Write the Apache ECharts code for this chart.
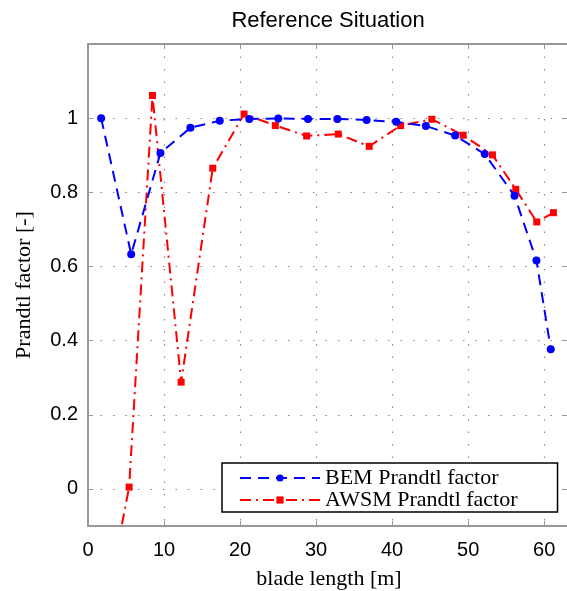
<!DOCTYPE html>
<html>
<head>
<meta charset="utf-8">
<script src="https://cdn.jsdelivr.net/npm/echarts@6/dist/echarts.min.js"></script>
<style>
  html, body { margin: 0; padding: 0; background: #fff; overflow: hidden; }
  #chart { width: 567px; height: 591px; }
</style>
</head>
<body>
<div id="chart"></div>
<script>
// ---- data ----
var titleText = 'Reference Situation';
var xAxisName = 'blade length [m]';
var yAxisName = 'Prandtl factor [-]';
var seriesNames = ['BEM Prandtl factor', 'AWSM Prandtl factor'];

var bemX = [1.73, 5.68, 9.53, 13.47, 17.33, 21.22, 25.03, 28.94, 32.8, 36.65, 40.54, 44.44, 48.29, 52.19, 56.1, 58.99, 60.87];
var bemY = [1.0, 0.633, 0.906, 0.974, 0.993, 0.998, 0.999, 0.998, 0.998, 0.995, 0.990, 0.979, 0.953, 0.903, 0.791, 0.616, 0.377];

var awsmX = [1.6, 5.41, 8.48, 12.25, 16.41, 20.53, 24.64, 28.76, 32.92, 36.99, 41.12, 45.23, 49.34, 53.2, 56.27, 59.03, 61.22];
var awsmY = [-0.40, 0.005, 1.061, 0.288, 0.865, 1.011, 0.980, 0.952, 0.957, 0.924, 0.980, 0.997, 0.954, 0.901, 0.808, 0.720, 0.745];

var xMin = 0, xMax = 63.4, xStep = 10;
var yMin = -0.1, yMax = 1.2;

function pairs(xs, ys) {
  return xs.map(function (x, i) { return [x, ys[i]]; });
}

var frameColor = '#999999';
var gridColor = '#8a8a8a';
var sansFont = '"Liberation Sans", Arial, Helvetica, sans-serif';
var serifFont = '"Liberation Serif", "Times New Roman", serif';

function isMultiple(v, step) {
  var r = v / step;
  return Math.abs(r - Math.round(r)) < 1e-6;
}

var chart = echarts.init(document.getElementById('chart'), null, { renderer: 'canvas' });

var option = {
  backgroundColor: '#ffffff',
  animation: false,
  title: {
    text: titleText,
    left: 323,
    top: 5,
    textAlign: 'center',
    textStyle: { fontFamily: sansFont, fontSize: 22, fontWeight: 'normal', color: '#000' }
  },
  grid: { left: 88, right: -3, top: 44, bottom: 65, containLabel: false, outerBoundsMode: 'none' },
  legend: {
    orient: 'vertical',
    left: 222,
    top: 463,
    backgroundColor: '#ffffff',
    borderColor: '#000000',
    borderWidth: 1.5,
    borderRadius: 0,
    padding: [4, 40, 1, 17],
    itemGap: 0,
    itemWidth: 80,
    itemHeight: 9,
    textStyle: { fontFamily: serifFont, fontSize: 22, color: '#000' },
    data: seriesNames
  },
  xAxis: [
    {
      type: 'value',
      position: 'bottom',
      min: xMin, max: xMax, interval: xStep,
      name: xAxisName,
      nameLocation: 'middle',
      nameGap: 42,
      nameTextStyle: { fontFamily: serifFont, fontSize: 22, color: '#000' },
      axisLine: { show: true, onZero: false, lineStyle: { color: frameColor, width: 2 } },
      axisTick: { show: true, inside: true, length: 5, lineStyle: { color: frameColor, width: 1 } },
      axisLabel: {
        margin: 14,
        fontFamily: sansFont, fontSize: 20, color: '#000',
        formatter: function (v) { return isMultiple(v, xStep) ? String(v) : ''; }
      },
      splitLine: { show: true, lineStyle: { color: gridColor, width: 1.2, type: [1.5, 11] } }
    },
    {
      type: 'value',
      position: 'top',
      min: xMin, max: xMax, interval: xStep,
      axisLine: { show: true, onZero: false, lineStyle: { color: frameColor, width: 2 } },
      axisTick: { show: true, inside: true, length: 5, lineStyle: { color: frameColor, width: 1 } },
      axisLabel: { show: false },
      splitLine: { show: false }
    }
  ],
  yAxis: [
    {
      type: 'value',
      position: 'left',
      min: yMin, max: yMax, splitNumber: 6,
      name: yAxisName,
      nameLocation: 'middle',
      nameGap: 53,
      nameRotate: 90,
      nameTextStyle: { fontFamily: serifFont, fontSize: 22, color: '#000' },
      axisLine: { show: true, onZero: false, lineStyle: { color: frameColor, width: 2 } },
      axisTick: { show: true, inside: true, length: 5, lineStyle: { color: frameColor, width: 1 } },
      axisLabel: {
        margin: 10,
        fontFamily: sansFont, fontSize: 20, color: '#000',
        formatter: function (v) {
          if (!isMultiple(v, 0.2) || v > 1.0001 || v < -0.0001) return '';
          return String(Math.round(v * 10) / 10);
        }
      },
      splitLine: { show: true, lineStyle: { color: gridColor, width: 1.2, type: [1.5, 11] } }
    },
    {
      type: 'value',
      position: 'right',
      min: yMin, max: yMax, splitNumber: 6,
      axisLine: { show: true, onZero: false, lineStyle: { color: frameColor, width: 2 } },
      axisTick: { show: true, inside: true, length: 8, lineStyle: { color: frameColor, width: 1 } },
      axisLabel: { show: false },
      splitLine: { show: false }
    }
  ],
  series: [
    {
      name: seriesNames[0],
      type: 'line',
      xAxisIndex: 0, yAxisIndex: 0,
      data: pairs(bemX, bemY),
      symbol: 'circle',
      symbolSize: 8,
      showAllSymbol: true,
      clip: true,
      itemStyle: { color: '#0000ff' },
      lineStyle: { color: '#0000ff', width: 2, type: [11, 7] },
      z: 3
    },
    {
      name: seriesNames[1],
      type: 'line',
      xAxisIndex: 0, yAxisIndex: 0,
      data: pairs(awsmX, awsmY),
      symbol: 'rect',
      symbolSize: 7,
      showAllSymbol: true,
      clip: true,
      itemStyle: { color: '#ff0000' },
      lineStyle: { color: '#ff0000', width: 2, type: [11, 5, 2, 5] },
      z: 2
    }
  ]
};

chart.setOption(option);
</script>
</body>
</html>
